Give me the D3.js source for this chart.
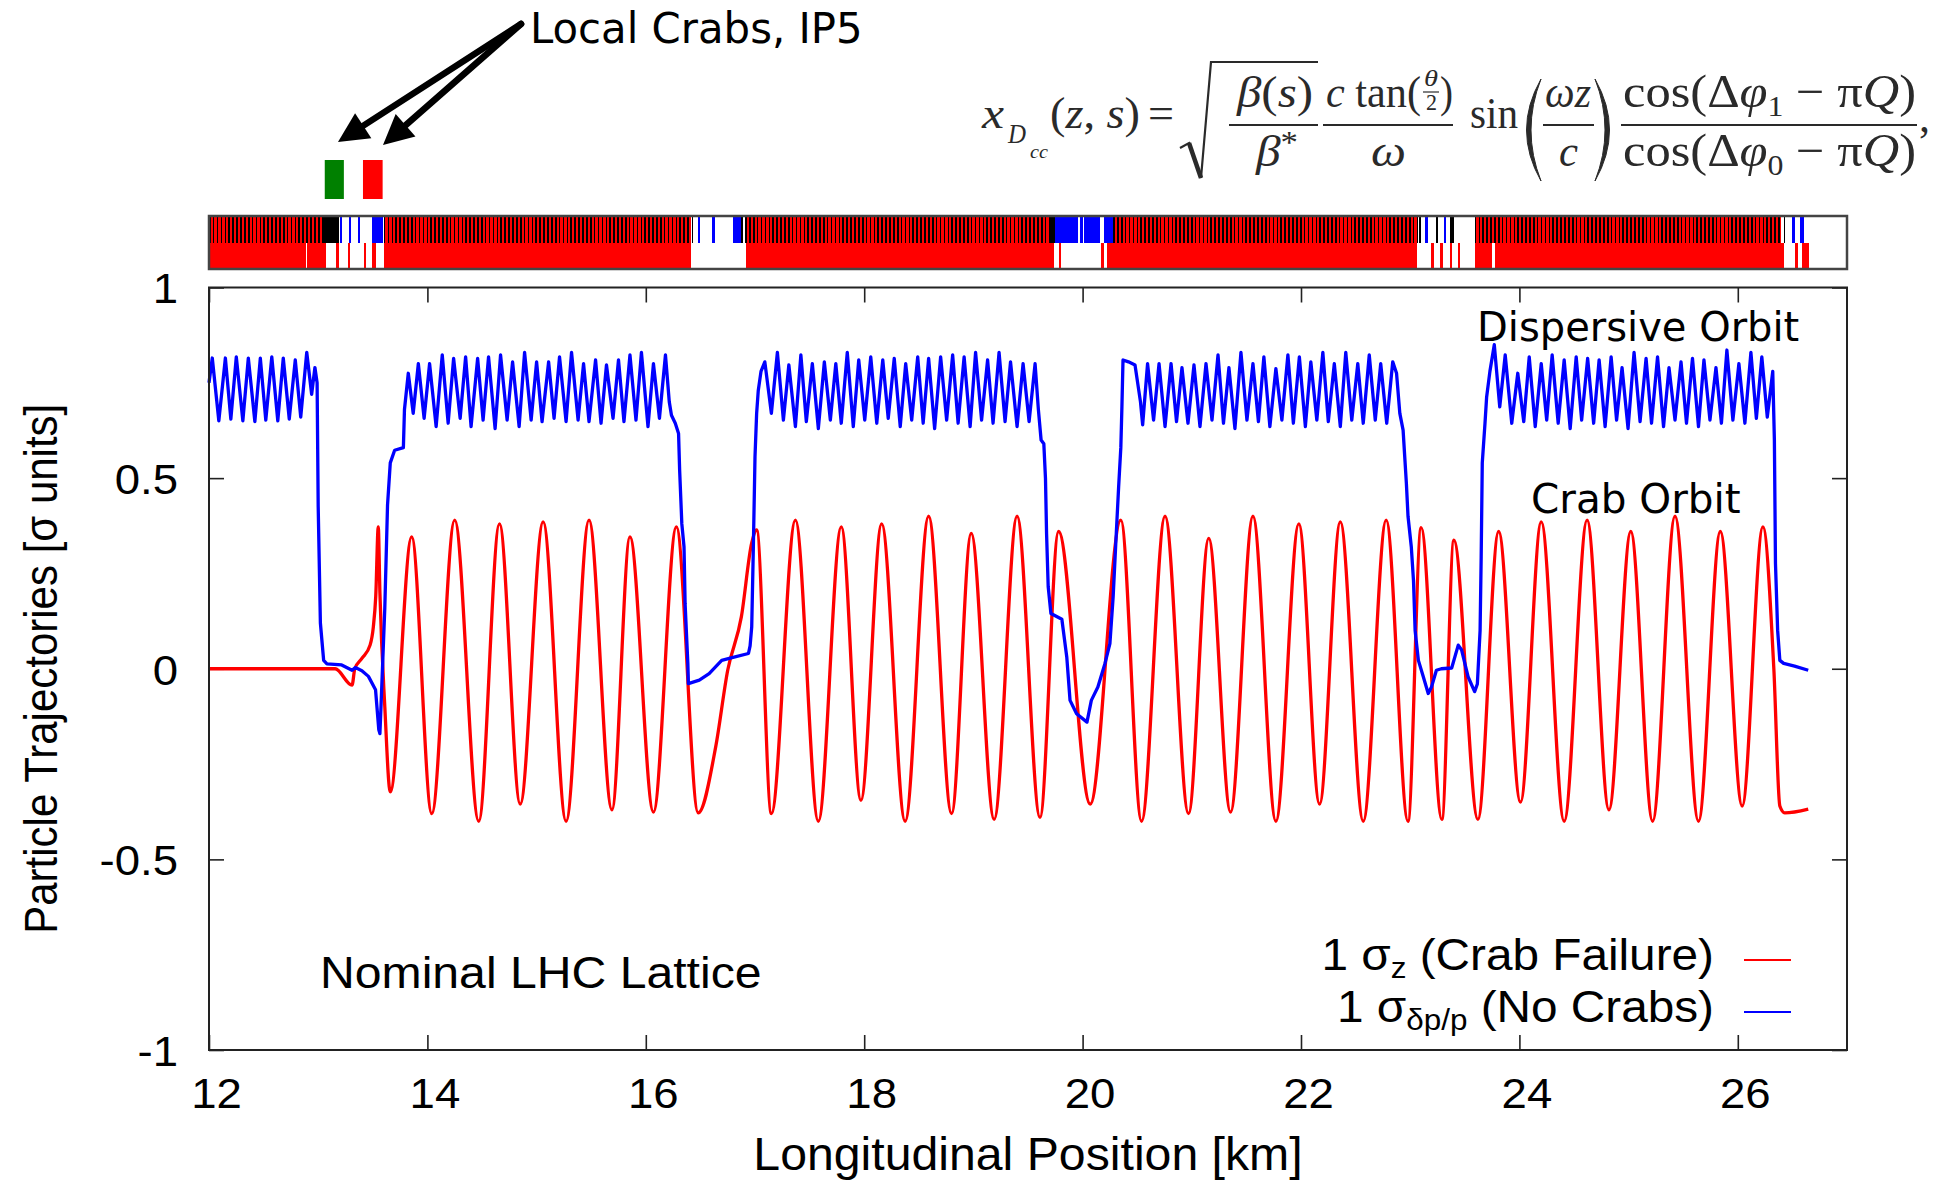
<!DOCTYPE html>
<html><head><meta charset="utf-8">
<script src="https://cdn.jsdelivr.net/npm/d3@7"></script>
<style>
html,body{margin:0;padding:0;background:#fff;}
svg{display:block;}
</style></head>
<body>
<svg id="chart" width="1950" height="1180"></svg>
<script>
// ---------------- DATA ----------------
const xTicks = [12, 14, 16, 18, 20, 22, 24, 26];
const yTicks = [-1, -0.5, 0, 0.5, 1];
const yTickLabels = ["-1", "-0.5", "0", "0.5", "1"];

// Crab orbit (1 sigma_z, crab failure) [km, sigma units]
const crabOrbit = [
[12.00,0],[13.155,0],[13.31,-0.043],[13.335,0.0],[13.40,0.027],[13.475,0.062],[13.505,0.11],[13.527,0.19],[13.55,0.372],[13.565,0.2],[13.61,-0.10],[13.66,-0.323],
[13.856,0.346],[14.04,-0.38],[14.25,0.39],[14.47,-0.40],[14.66,0.38],[14.85,-0.355],[15.06,0.385],[15.27,-0.40],[15.48,0.39],[15.69,-0.37],
[15.855,0.346],[16.07,-0.376],[16.28,0.372],[16.48,-0.378],[16.64,-0.205],[16.75,-0.004],[16.875,0.136],[16.97,0.33],[17.015,0.364],
[17.15,-0.38],[17.37,0.39],[17.58,-0.40],[17.79,0.372],[17.97,-0.345],[18.16,0.38],[18.375,-0.40],[18.59,0.40],[18.80,-0.38],[18.98,0.355],
[19.19,-0.395],[19.40,0.40],[19.61,-0.39],[19.78,0.36],[20.07,-0.355],[20.35,0.39],[20.54,-0.40],[20.755,0.40],[20.97,-0.38],[21.155,0.342],
[21.355,-0.376],[21.56,0.40],[21.77,-0.40],[21.98,0.38],[22.17,-0.355],[22.36,0.385],[22.57,-0.40],[22.78,0.39],[22.98,-0.40],[23.10,0.37],
[23.29,-0.395],[23.40,0.337],[23.62,-0.395],[23.81,0.36],[24.01,-0.35],[24.20,0.385],[24.41,-0.40],[24.62,0.39],[24.82,-0.37],[25.02,0.36],
[25.22,-0.40],[25.425,0.40],[25.64,-0.40],[25.84,0.36],[26.04,-0.36],[26.23,0.372],[26.33,0.0],[26.385,-0.36],[26.43,-0.378],[26.645,-0.368]
];

// Dispersive orbit (1 sigma_dp/p, no crabs) [km, sigma units]
const dispersiveOrbit = [
[12.00,0.75],[12.03,0.815],[12.09,0.65],[12.15,0.815],[12.20,0.655],[12.25,0.818],[12.31,0.65],[12.36,0.815],[12.42,0.648],[12.47,0.815],
[12.52,0.652],[12.575,0.818],[12.63,0.65],[12.68,0.815],[12.735,0.655],[12.79,0.81],[12.84,0.66],[12.895,0.83],[12.94,0.72],[12.97,0.79],
[12.99,0.75],[13.00,0.425],[13.02,0.12],[13.05,0.022],[13.08,0.013],[13.215,0.01],[13.31,-0.004],[13.34,0.003],[13.40,-0.005],[13.46,-0.02],
[13.525,-0.055],[13.555,-0.16],[13.565,-0.17],[13.575,-0.1],[13.61,0.16],[13.635,0.43],[13.66,0.54],[13.70,0.573],[13.78,0.58],[13.79,0.68],[13.825,0.775],
[13.87,0.67],[13.917,0.80],[13.97,0.657],[14.02,0.80],[14.08,0.635],[14.136,0.823],[14.19,0.644],[14.24,0.814],[14.30,0.657],[14.35,0.818],
[14.40,0.635],[14.46,0.814],[14.51,0.652],[14.56,0.818],[14.62,0.63],[14.67,0.823],[14.73,0.652],[14.78,0.805],[14.84,0.635],[14.89,0.83],
[14.95,0.652],[15.00,0.805],[15.05,0.648],[15.11,0.805],[15.16,0.657],[15.21,0.818],[15.27,0.648],[15.32,0.83],[15.38,0.652],[15.43,0.80],
[15.48,0.648],[15.54,0.81],[15.59,0.644],[15.64,0.797],[15.70,0.657],[15.75,0.81],[15.80,0.648],[15.855,0.823],[15.91,0.652],[15.96,0.83],
[16.02,0.635],[16.07,0.80],[16.125,0.657],[16.18,0.823],[16.215,0.70],[16.235,0.665],[16.27,0.644],[16.30,0.617],[16.31,0.52],[16.33,0.38],
[16.35,0.32],[16.36,0.17],[16.385,0.014],[16.39,-0.039],[16.49,-0.03],[16.58,-0.013],[16.695,0.022],[16.79,0.029],[16.94,0.04],[16.955,0.06],
[16.97,0.11],[16.985,0.32],[17.0,0.556],[17.015,0.67],[17.03,0.73],[17.055,0.78],[17.09,0.805],
[17.15,0.67],[17.205,0.83],[17.26,0.652],[17.31,0.797],[17.37,0.635],[17.42,0.823],[17.47,0.648],[17.525,0.80],[17.58,0.63],[17.635,0.805],
[17.69,0.652],[17.74,0.80],[17.79,0.644],[17.845,0.83],[17.90,0.635],[17.95,0.81],[18.005,0.652],[18.06,0.818],[18.115,0.644],[18.17,0.81],
[18.22,0.657],[18.275,0.814],[18.33,0.635],[18.38,0.80],[18.435,0.652],[18.49,0.818],[18.54,0.644],[18.59,0.814],[18.645,0.63],[18.70,0.818],
[18.755,0.652],[18.81,0.823],[18.86,0.644],[18.915,0.818],[18.97,0.635],[19.02,0.83],[19.075,0.652],[19.13,0.81],[19.18,0.644],[19.235,0.83],
[19.29,0.648],[19.34,0.805],[19.40,0.635],[19.455,0.80],[19.51,0.648],[19.565,0.80],[19.595,0.68],[19.62,0.60],[19.645,0.59],[19.66,0.50],
[19.67,0.355],[19.685,0.215],[19.71,0.145],[19.81,0.13],[19.855,0.031],[19.885,-0.083],[19.945,-0.118],[20.04,-0.14],[20.08,-0.083],[20.14,-0.048],
[20.205,0.014],[20.25,0.066],[20.28,0.19],[20.31,0.364],[20.33,0.477],[20.35,0.58],[20.36,0.687],[20.37,0.81],[20.42,0.805],[20.48,0.797],
[20.53,0.70],[20.55,0.64],[20.595,0.80],[20.65,0.652],[20.70,0.80],[20.755,0.635],[20.81,0.80],[20.86,0.648],[20.91,0.79],[20.965,0.644],
[21.02,0.797],[21.075,0.635],[21.13,0.80],[21.185,0.652],[21.24,0.823],[21.29,0.644],[21.34,0.79],[21.395,0.63],[21.45,0.83],[21.505,0.652],
[21.56,0.80],[21.61,0.648],[21.66,0.818],[21.715,0.635],[21.77,0.787],[21.825,0.652],[21.88,0.823],[21.93,0.644],[21.985,0.818],[22.04,0.635],
[22.09,0.805],[22.145,0.652],[22.20,0.83],[22.25,0.648],[22.305,0.80],[22.36,0.635],[22.41,0.83],[22.465,0.652],[22.52,0.80],[22.57,0.644],
[22.625,0.823],[22.68,0.652],[22.73,0.80],[22.785,0.644],[22.84,0.805],[22.875,0.775],[22.905,0.67],[22.935,0.626],[22.95,0.556],[22.965,0.486],
[22.98,0.40],[23.01,0.32],[23.03,0.232],[23.045,0.10],[23.075,0.022],[23.12,-0.021],[23.165,-0.065],[23.195,-0.048],[23.24,-0.004],[23.285,0.0],
[23.38,0.002],[23.44,0.062],[23.47,0.05],[23.53,-0.021],[23.59,-0.06],[23.615,-0.04],[23.64,0.10],[23.65,0.293],[23.66,0.54],[23.685,0.644],
[23.70,0.713],[23.73,0.78],[23.77,0.85],
[23.82,0.687],[23.87,0.823],[23.93,0.644],[23.985,0.775],[24.04,0.648],[24.09,0.818],[24.145,0.635],[24.20,0.80],[24.25,0.652],[24.30,0.823],
[24.355,0.644],[24.41,0.81],[24.465,0.63],[24.52,0.818],[24.57,0.652],[24.625,0.814],[24.68,0.644],[24.73,0.81],[24.785,0.635],[24.84,0.818],
[24.89,0.652],[24.94,0.79],[24.995,0.63],[25.05,0.83],[25.105,0.648],[25.16,0.814],[25.21,0.644],[25.265,0.818],[25.32,0.635],[25.37,0.79],
[25.425,0.652],[25.48,0.805],[25.53,0.644],[25.585,0.814],[25.64,0.635],[25.69,0.81],[25.745,0.652],[25.80,0.79],[25.85,0.644],[25.90,0.836],
[25.955,0.652],[26.01,0.80],[26.065,0.644],[26.12,0.83],[26.17,0.657],[26.22,0.818],[26.27,0.66],[26.32,0.78],[26.335,0.60],[26.345,0.276],
[26.365,0.10],[26.385,0.022],[26.42,0.014],[26.52,0.007],[26.645,-0.004]
];

// Lattice bar (km)
const cellLengthKm = 0.1069;
const latticeArcs = [[12.00,13.04],[13.60,16.41],[16.91,19.72],[20.28,23.06],[23.59,26.40]];
const latticeBlack = [[13.04,13.19],[16.42,16.435],[16.87,16.89],[19.70,19.75],[23.08,23.095],[23.24,23.255],[23.36,23.40],[26.42,26.435]];
const latticeBlue = [[13.20,13.22],[13.28,13.30],[13.36,13.38],[13.49,13.59],[16.48,16.50],[16.61,16.63],[16.80,16.87],
  [19.75,19.96],[19.975,20.00],[20.01,20.155],[20.20,20.28],[23.14,23.16],[23.31,23.33],[26.50,26.52],[26.57,26.61]];
const latticeDipoles = [[12.00,12.89],[12.90,13.074],[13.163,13.19],[13.274,13.295],[13.416,13.44],[13.495,13.527],[13.60,16.41],
  [16.92,19.74],[19.785,19.80],[20.17,20.20],[20.22,23.06],[23.19,23.22],[23.27,23.30],[23.36,23.38],[23.44,23.45],[23.59,23.75],
  [23.78,26.42],[26.52,26.55],[26.59,26.65]];
const crabCavities = [[13.06,13.235],[13.41,13.59]];

// ---------------- LAYOUT ----------------
const svg = d3.select("#chart");
const x = d3.scaleLinear().domain([12, 27]).range([209, 1847]);
const y = d3.scaleLinear().domain([-1, 1]).range([1050, 287.5]);
const SANS = "'Liberation Sans', Arial, Helvetica, sans-serif";
const DEJA = "'DejaVu Sans', Verdana, sans-serif";
const SERIF = "'Liberation Serif', 'Times New Roman', serif";

svg.append("rect").attr("width",1950).attr("height",1180).attr("fill","#fff");

// ---- Lattice bar ----
const barTop = 217, barMid = 242.5, barBot = 268;
const lg = svg.append("g").attr("shape-rendering","crispEdges");
function seg(a,b,y0,y1,col,minW){
  const w = Math.max(minW||1.2, x(b)-x(a));
  lg.append("rect").attr("x",x(a)).attr("y",y0).attr("width",w).attr("height",y1-y0).attr("fill",col);
}
latticeArcs.forEach(([a,b]) => {
  seg(a,b,barTop,barMid,"#ff0000");
  d3.range(a, b, cellLengthKm/3).forEach(s => {
    lg.append("rect").attr("x",x(s)).attr("y",barTop).attr("width",1.6).attr("height",barMid-barTop).attr("fill","#000");
  });
});
latticeBlack.forEach(([a,b]) => seg(a,b,barTop,barMid,"#000",1.5));
latticeBlue.forEach(([a,b]) => seg(a,b,barTop,barMid,"#0000ff",1.5));
latticeDipoles.forEach(([a,b]) => seg(a,b,barMid,barBot,"#ff0000",1.5));
svg.append("rect").attr("x",x(12)).attr("y",barTop-1).attr("width",x(27)-x(12)).attr("height",barBot-barTop+2)
  .attr("fill","none").attr("stroke","#444").attr("stroke-width",2.5);

// crab cavities markers
const ccCol = ["#008000","#ff0000"];
crabCavities.forEach(([a,b],i) => {
  svg.append("rect").attr("x",x(a)).attr("y",160).attr("width",x(b)-x(a)).attr("height",39).attr("fill",ccCol[i]);
});

// ---- Axes ----
const TSX = 1.06; // horizontal stretch of the original lettering
function styleAxis(g){
  g.attr("font-family",SANS).attr("font-size",43);
  g.select(".domain").remove();
  g.selectAll(".tick line").attr("stroke","#222").attr("stroke-width",1.6);
  g.selectAll(".tick text").attr("fill","#000");
}
const gxb = svg.append("g").attr("transform",`translate(0,${y(-1)})`)
  .call(d3.axisBottom(x).tickValues(xTicks).tickSize(-15).tickFormat(d=>String(d)));
styleAxis(gxb);
gxb.selectAll(".tick text").attr("y",58).attr("dy",0).attr("x",7/TSX).attr("transform",`scale(${TSX},1)`);
const gxt = svg.append("g").attr("transform",`translate(0,${y(1)})`)
  .call(d3.axisTop(x).tickValues(xTicks).tickSize(-15).tickFormat(""));
styleAxis(gxt);
const gyl = svg.append("g").attr("transform",`translate(${x(12)},0)`)
  .call(d3.axisLeft(y).tickValues(yTicks).tickSize(-15).tickFormat((d,i)=>yTickLabels[i]));
styleAxis(gyl);
gyl.selectAll(".tick text").attr("x",-31/TSX).attr("dy","0.36em").attr("transform",`scale(${TSX},1)`);
const gyr = svg.append("g").attr("transform",`translate(${x(27)},0)`)
  .call(d3.axisRight(y).tickValues(yTicks).tickSize(-15).tickFormat(""));
styleAxis(gyr);

// ---- Series ----
const redLine = d3.line().x(d=>x(d[0])).y(d=>y(d[1])).curve(d3.curveMonotoneX);
const blueLine = d3.line().x(d=>x(d[0])).y(d=>y(d[1]));
svg.append("path").datum(crabOrbit).attr("d",redLine).attr("fill","none").attr("stroke","#ff0000").attr("stroke-width",3.3).attr("stroke-linejoin","round");
svg.append("path").datum(dispersiveOrbit).attr("d",blueLine).attr("fill","none").attr("stroke","#0000ff").attr("stroke-width",3.3).attr("stroke-linejoin","round");

// frame
svg.append("rect").attr("x",x(12)).attr("y",y(1)).attr("width",x(27)-x(12)).attr("height",y(-1)-y(1))
  .attr("fill","none").attr("stroke","#222").attr("stroke-width",2);

// stretched text helper
function stext(px,py,anchor,size,sx,family){
  return svg.append("text").attr("transform",`translate(${px},${py}) scale(${sx},1)`)
    .attr("text-anchor",anchor).attr("font-family",family||SANS).attr("font-size",size);
}

// ---- Axis titles ----
stext((x(12)+x(27))/2,1170,"middle",46,1.048).text("Longitudinal Position [km]");
svg.append("text").attr("transform",`translate(57,${(y(1)+y(-1))/2}) rotate(-90) scale(1,1.08)`).attr("text-anchor","middle")
  .attr("font-family",SANS).attr("font-size",42).text("Particle Trajectories [σ units]");

// ---- Legend ----
const leg = [
  {main:"1 σ", sub:"z", rest:" (Crab Failure)", col:"#ff0000", by:970},
  {main:"1 σ", sub:"δp/p", rest:" (No Crabs)", col:"#0000ff", by:1022}
];
leg.forEach(l => {
  const t = stext(1714,l.by,"end",44,1.085);
  t.append("tspan").text(l.main);
  t.append("tspan").attr("font-size",29).attr("dy",8).text(l.sub);
  t.append("tspan").attr("dy",-8).text(l.rest);
  svg.append("line").attr("x1",1744).attr("x2",1791).attr("y1",l.by-10).attr("y2",l.by-10).attr("stroke",l.col).attr("stroke-width",2);
});

// ---- Annotations ----
stext(320,988,"start",45,1.07).text("Nominal LHC Lattice");
svg.append("text").attr("x",1477).attr("y",341).attr("font-family",DEJA).attr("font-size",40).text("Dispersive Orbit");
svg.append("text").attr("x",1531).attr("y",513).attr("font-family",DEJA).attr("font-size",40.5).text("Crab Orbit");
svg.append("text").attr("x",530).attr("y",43).attr("font-family",DEJA).attr("font-size",41.8).text("Local Crabs, IP5");

function arrow(sx,sy,tx,ty){
  const dx=tx-sx, dy=ty-sy, L=Math.hypot(dx,dy), ux=dx/L, uy=dy/L, px=-uy, py=ux;
  const hl=30, hw=15, bx=tx-ux*hl, by=ty-uy*hl;
  svg.append("line").attr("x1",sx).attr("y1",sy).attr("x2",bx+ux*3).attr("y2",by+uy*3)
    .attr("stroke","#000").attr("stroke-width",6.5).attr("stroke-linecap","round");
  svg.append("path").attr("d",`M${tx},${ty}L${bx+px*hw},${by+py*hw}L${bx-px*hw},${by-py*hw}Z`).attr("fill","#000");
}
arrow(521,24,338,142);
arrow(521,24,383,145);

// ---- Formula ----
const FC = "#2a2a2a";
const fg = svg.append("g").attr("font-family",SERIF).attr("fill",FC);
function ftext(x0,x1,base,size,parts){
  const t = fg.append("text").attr("x",x0).attr("y",base).attr("font-size",size);
  parts.forEach(p => {
    const s = t.append("tspan").text(p.t);
    if (p.i) s.attr("font-style","italic");
    if (p.s) s.attr("font-size",p.s);
    if (p.dy) s.attr("dy",p.dy);
  });
  if (x1) t.attr("textLength",x1-x0).attr("lengthAdjust","spacingAndGlyphs");
  return t;
}
function fbar(x0,x1,yy,w){ fg.append("line").attr("x1",x0).attr("x2",x1).attr("y1",yy).attr("y2",yy).attr("stroke",FC).attr("stroke-width",w||2.2); }
ftext(982,1004,128,44,[{t:"x",i:1}]);
ftext(1008,1026,143,27,[{t:"D",i:1}]);
ftext(1030,1048,158,19,[{t:"cc",i:1}]);
ftext(1050,1140,128,44,[{t:"("},{t:"z",i:1},{t:", "},{t:"s",i:1},{t:")"}]);
ftext(1148,1174,128,44,[{t:"="}]);
fg.append("path").attr("d","M1180,148 L1189,143 L1201,178 L1211,62 L1318,62").attr("fill","none").attr("stroke",FC).attr("stroke-width",2.2);
fg.append("line").attr("x1",1189).attr("y1",143).attr("x2",1201).attr("y2",178).attr("stroke",FC).attr("stroke-width",4.5);
ftext(1237,1313,107,44,[{t:"β",i:1},{t:"("},{t:"s",i:1},{t:")"}]);
fbar(1229,1318,125);
ftext(1256,1298,166,44,[{t:"β",i:1},{t:"*",s:31,dy:-13}]);
ftext(1326,1421,107,44,[{t:"c",i:1},{t:" tan("}]);
ftext(1424,1438,86,24,[{t:"θ",i:1}]);
fbar(1423,1439,92,1.2);
ftext(1426,1437,110,24,[{t:"2"}]);
ftext(1440,1453,107,44,[{t:")"}]);
fbar(1323,1453,125);
ftext(1371,1406,166,44,[{t:"ω",i:1}]);
ftext(1470,1518,128,44,[{t:"sin"}]);
fg.append("path").attr("d","M1541,79 Q1512,130 1541,181 Q1521,130 1541,79 Z").attr("fill",FC).attr("stroke",FC).attr("stroke-width",1);
ftext(1545,1591,107,44,[{t:"ω",i:1},{t:"z",i:1}]);
fbar(1543,1594,125);
ftext(1559,1578,166,44,[{t:"c",i:1}]);
fg.append("path").attr("d","M1595,79 Q1624,130 1595,181 Q1615,130 1595,79 Z").attr("fill",FC).attr("stroke",FC).attr("stroke-width",1);
ftext(1623,1916,107,46,[{t:"cos(Δ"},{t:"φ",i:1},{t:"1",s:29,dy:9},{t:" − π",dy:-9},{t:"Q",i:1},{t:")"}]);
fbar(1621,1917,125);
ftext(1623,1916,166,46,[{t:"cos(Δ"},{t:"φ",i:1},{t:"0",s:29,dy:9},{t:" − π",dy:-9},{t:"Q",i:1},{t:")"}]);
ftext(1919,1930,132,44,[{t:","}]);
</script>
</body></html>
